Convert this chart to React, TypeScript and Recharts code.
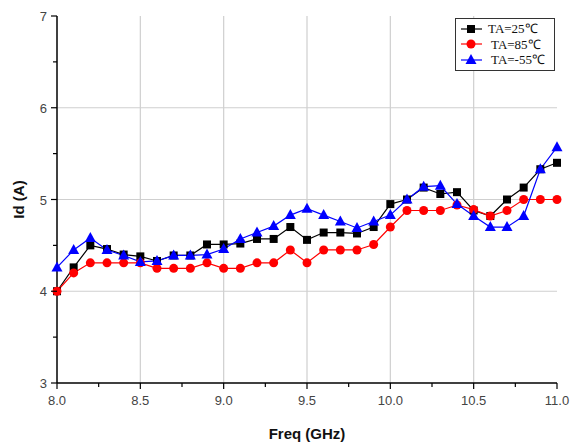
import { LineChart, Line, XAxis, YAxis, ReferenceLine } from 'recharts';

const freq = [
  8.0, 8.1, 8.2, 8.3, 8.4, 8.5, 8.6, 8.7, 8.8, 8.9, 9.0, 9.1, 9.2, 9.3, 9.4, 9.5,
  9.6, 9.7, 9.8, 9.9, 10.0, 10.1, 10.2, 10.3, 10.4, 10.5, 10.6, 10.7, 10.8, 10.9, 11.0,
];
const ta25 = [
  4.0, 4.26, 4.5, 4.46, 4.4, 4.38, 4.33, 4.39, 4.39, 4.51, 4.51, 4.52, 4.57, 4.57, 4.7, 4.56,
  4.64, 4.64, 4.63, 4.7, 4.95, 5.0, 5.13, 5.06, 5.08, 4.88, 4.82, 5.0, 5.13, 5.33, 5.4,
];
const ta85 = [
  4.0, 4.2, 4.31, 4.31, 4.31, 4.31, 4.25, 4.25, 4.25, 4.31, 4.25, 4.25, 4.31, 4.31, 4.45, 4.31,
  4.45, 4.45, 4.45, 4.51, 4.7, 4.88, 4.88, 4.88, 4.94, 4.89, 4.82, 4.88, 5.0, 5.0, 5.0,
];
const taM55 = [
  4.26, 4.45, 4.58, 4.45, 4.39, 4.32, 4.33, 4.39, 4.39, 4.4, 4.46, 4.57, 4.64, 4.71, 4.83, 4.9,
  4.83, 4.76, 4.69, 4.76, 4.83, 5.0, 5.14, 5.15, 4.95, 4.82, 4.7, 4.7, 4.82, 5.33, 5.57,
];

const xTicks = [8.0, 8.25, 8.5, 8.75, 9.0, 9.25, 9.5, 9.75, 10.0, 10.25, 10.5, 10.75, 11.0];
const xMajor = [8.0, 8.5, 9.0, 9.5, 10.0, 10.5, 11.0];
const yTicks = [3, 3.5, 4, 4.5, 5, 5.5, 6, 6.5, 7];
const yMajor = [3, 4, 5, 6, 7];

const seriesNames = ['TA=25℃', 'TA=85℃', 'TA=-55℃'];
const seriesColors = ['#000000', '#ff0000', '#0000ff'];

const data = freq.map((f, i) => ({ f, a: ta25[i], b: ta85[i], c: taM55[i] }));

const tickFont = 'Liberation Sans, Arial, sans-serif';

const XTick = (props: any) => {
  const { x, y, payload } = props;
  const major = xMajor.includes(payload.value);
  return (
    <g>
      <line x1={x} x2={x} y1={y} y2={y + (major ? 6 : 4)} stroke="#000" strokeWidth={1.2} />
      {major && (
        <text x={x} y={y + 22} textAnchor="middle" fontSize={13} fill="#444" fontFamily={tickFont}>
          {payload.value.toFixed(1)}
        </text>
      )}
    </g>
  );
};

const YTick = (props: any) => {
  const { x, y, payload } = props;
  const major = yMajor.includes(payload.value);
  return (
    <g>
      <line x1={x - (major ? 6 : 4)} x2={x} y1={y} y2={y} stroke="#000" strokeWidth={1.2} />
      {major && (
        <text x={x - 10} y={y + 5} textAnchor="end" fontSize={13} fill="#444" fontFamily={tickFont}>
          {payload.value}
        </text>
      )}
    </g>
  );
};

// frame ticks (top / right) point inward
const TopTick = (props: any) => {
  const { x, y, payload } = props;
  const major = xMajor.includes(payload.value);
  return <line x1={x} x2={x} y1={y} y2={y + (major ? 5 : 3)} stroke="#000" strokeWidth={1} />;
};

const RightTick = (props: any) => {
  const { x, y, payload } = props;
  const major = yMajor.includes(payload.value);
  return <line x1={x - (major ? 5 : 3)} x2={x} y1={y} y2={y} stroke="#000" strokeWidth={1} />;
};

const SquareDot = (props: any) => {
  const { cx, cy, index } = props;
  if (cx == null || cy == null) return <g key={index} />;
  return <rect key={index} x={cx - 4} y={cy - 4} width={8} height={8} fill="#000" />;
};

const CircleDot = (props: any) => {
  const { cx, cy, index } = props;
  if (cx == null || cy == null) return <g key={index} />;
  return <circle key={index} cx={cx} cy={cy} r={4.5} fill="#ff0000" />;
};

const TriDot = (props: any) => {
  const { cx, cy, index } = props;
  if (cx == null || cy == null) return <g key={index} />;
  return (
    <polygon
      key={index}
      points={`${cx},${cy - 6} ${cx + 5.5},${cy + 4} ${cx - 5.5},${cy + 4}`}
      fill="#0000ff"
    />
  );
};

const marker = (i: number) => {
  if (i === 0) return <rect x={7} y={2} width={8} height={8} fill="#000" />;
  if (i === 1) return <circle cx={11} cy={6} r={4.5} fill="#ff0000" />;
  return <polygon points="11,0 16.5,10 5.5,10" fill="#0000ff" />;
};

const LegendBox = () => (
  <div
    style={{
      position: 'absolute',
      left: 455,
      top: 18,
      border: '1px solid #333',
      background: '#fff',
      padding: '2px 4px',
      width: 90,
      fontFamily: 'Liberation Serif, Times New Roman, serif',
      fontSize: 13,
      lineHeight: '15.5px',
    }}
  >
    {seriesNames.map((name, i) => (
      <div key={name} style={{ display: 'flex', alignItems: 'center' }}>
        <svg width={24} height={12} style={{ marginRight: i === 0 ? 4 : 7 }}>
          <line x1={1} x2={22} y1={6} y2={6} stroke={seriesColors[i]} strokeWidth={1.2} />
          {marker(i)}
        </svg>
        <span style={{ color: '#111' }}>{name}</span>
      </div>
    ))}
  </div>
);

export default function App() {
  return (
    <div style={{ position: 'absolute', left: 0, top: 0, width: 571, height: 445, background: '#fff' }}>
      <LineChart width={571} height={445} data={data} margin={{ top: 16, right: 14, bottom: 0, left: 0 }}>
        {xMajor.slice(1, -1).map((v) => (
          <ReferenceLine key={'gx' + v} x={v} stroke="#cfcfcf" strokeWidth={1.2} />
        ))}
        {yMajor.slice(1, -1).map((v) => (
          <ReferenceLine key={'gy' + v} y={v} stroke="#cfcfcf" strokeWidth={1.2} />
        ))}
        <XAxis
          dataKey="f"
          type="number"
          domain={[8, 11]}
          ticks={xTicks}
          interval={0}
          height={62}
          tickSize={0}
          tickMargin={0}
          tickLine={false}
          tick={<XTick />}
          axisLine={{ stroke: '#000', strokeWidth: 1.5 }}
          label={{
            value: 'Freq (GHz)',
            position: 'insideBottom',
            offset: 6,
            style: { fontFamily: tickFont, fontWeight: 'bold', fontSize: 15, fill: '#111' },
          }}
        />
        <XAxis
          xAxisId="top"
          orientation="top"
          dataKey="f"
          type="number"
          domain={[8, 11]}
          ticks={xTicks}
          interval={0}
          height={0}
          tickSize={0}
          tickMargin={0}
          tickLine={false}
          tick={<TopTick />}
          axisLine={{ stroke: '#000', strokeWidth: 1.5 }}
        />
        <YAxis
          type="number"
          domain={[3, 7]}
          ticks={yTicks}
          interval={0}
          width={57}
          tickSize={0}
          tickMargin={0}
          tickLine={false}
          tick={<YTick />}
          axisLine={{ stroke: '#000', strokeWidth: 1.5 }}
          label={{
            value: 'Id (A)',
            angle: -90,
            position: 'insideLeft',
            offset: 19,
            style: { fontFamily: tickFont, fontWeight: 'bold', fontSize: 15, fill: '#111', textAnchor: 'middle' },
          }}
        />
        <YAxis
          yAxisId="right"
          orientation="right"
          type="number"
          domain={[3, 7]}
          ticks={yTicks}
          interval={0}
          width={0}
          tickSize={0}
          tickMargin={0}
          tickLine={false}
          tick={<RightTick />}
          axisLine={{ stroke: '#000', strokeWidth: 1.5 }}
        />
        <Line
          dataKey="a"
          name={seriesNames[0]}
          stroke={seriesColors[0]}
          strokeWidth={1.2}
          dot={SquareDot}
          isAnimationActive={false}
        />
        <Line
          dataKey="b"
          name={seriesNames[1]}
          stroke={seriesColors[1]}
          strokeWidth={1.2}
          dot={CircleDot}
          isAnimationActive={false}
        />
        <Line
          dataKey="c"
          name={seriesNames[2]}
          stroke={seriesColors[2]}
          strokeWidth={1.2}
          dot={TriDot}
          isAnimationActive={false}
        />
      </LineChart>
      <LegendBox />
    </div>
  );
}
